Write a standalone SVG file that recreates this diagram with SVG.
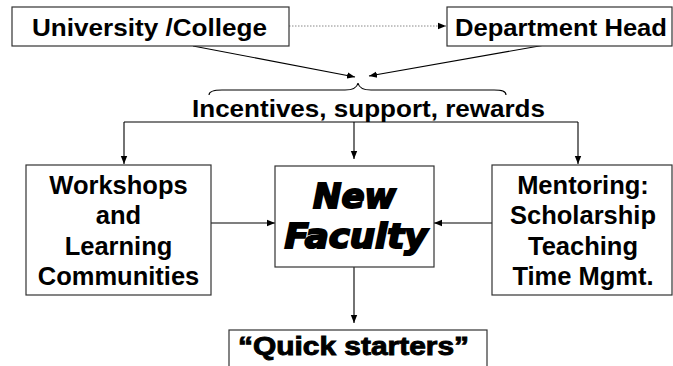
<svg xmlns="http://www.w3.org/2000/svg" width="673" height="366" viewBox="0 0 673 366">
<style>
.box{fill:#fff;stroke:#333;stroke-width:1.2}
.t{font-family:"Liberation Sans",Arial,sans-serif;font-weight:bold;fill:#000}
.c{text-anchor:middle}
.ln{fill:none;stroke:#000;stroke-width:1.1}
.heavy{stroke:#000;stroke-width:0.9}
</style>
<defs>
<marker id="ah" viewBox="0 0 8 8" refX="8" refY="4" markerWidth="8" markerHeight="8" markerUnits="userSpaceOnUse" orient="auto">
<path d="M0,0.8 L8,4 L0,7.2 Z" fill="#000"/>
</marker>
</defs>
<rect width="673" height="366" fill="#fff"/>
<g id="connectors">
<line x1="289" y1="26" x2="446" y2="26" stroke="#888" stroke-width="1" stroke-dasharray="1.5 1.5" marker-end="url(#ah)"/>
<line class="ln" x1="193" y1="46" x2="355" y2="77" marker-end="url(#ah)"/>
<line class="ln" x1="545" y1="45" x2="369" y2="76" marker-end="url(#ah)"/>
<path class="ln" d="M209,95 C209,91 214,90 222,90 L345,90 C353,90 357,88 358,83 C359,88 363,90 371,90 L494,90 C502,90 506,91 506,95" stroke-width="1"/>
<line class="ln" x1="124" y1="122" x2="578" y2="122"/>
<line class="ln" x1="124" y1="122" x2="124" y2="164" marker-end="url(#ah)"/>
<line class="ln" x1="354" y1="122" x2="354" y2="159" marker-end="url(#ah)"/>
<line class="ln" x1="578" y1="122" x2="578" y2="164" marker-end="url(#ah)"/>
<line class="ln" x1="211" y1="223" x2="275" y2="223" marker-end="url(#ah)"/>
<line class="ln" x1="492" y1="223" x2="434" y2="223" marker-end="url(#ah)"/>
<line class="ln" x1="354" y1="267" x2="354" y2="323" marker-end="url(#ah)"/>
</g>
<g id="university">
<rect class="box" x="12" y="7" width="277" height="39"/>
<text class="t" x="32" y="36" font-size="24" textLength="235" lengthAdjust="spacingAndGlyphs">University /College</text>
</g>
<g id="department">
<rect class="box" x="447" y="7" width="225" height="39"/>
<text class="t" x="455" y="36" font-size="24" textLength="212" lengthAdjust="spacingAndGlyphs">Department Head</text>
</g>
<g id="incentives">
<text class="t" x="192" y="117" font-size="24" textLength="353" lengthAdjust="spacingAndGlyphs">Incentives, support, rewards</text>
</g>
<g id="workshops">
<rect class="box" x="26" y="165" width="185" height="130"/>
<text class="t c" x="118.5" y="194" font-size="25.5">Workshops</text>
<text class="t c" x="118.5" y="224" font-size="25.5">and</text>
<text class="t c" x="118.5" y="255" font-size="25.5">Learning</text>
<text class="t c" x="118.5" y="285" font-size="25.5">Communities</text>
</g>
<g id="newfaculty">
<rect class="box" x="275" y="166" width="159" height="101"/>
<text class="c" x="354.5" y="208" font-size="34" font-family="'DejaVu Sans',sans-serif" font-weight="bold" font-style="italic" stroke="#000" stroke-width="2">New</text>
<text class="c" x="356" y="248" font-size="34" font-family="'DejaVu Sans',sans-serif" font-weight="bold" font-style="italic" stroke="#000" stroke-width="2" textLength="143" lengthAdjust="spacingAndGlyphs">Faculty</text>
</g>
<g id="mentoring">
<rect class="box" x="492" y="165" width="180" height="130"/>
<text class="t c" x="583" y="194" font-size="25.5">Mentoring:</text>
<text class="t c" x="583" y="224" font-size="25.5">Scholarship</text>
<text class="t c" x="583" y="255" font-size="25.5">Teaching</text>
<text class="t c" x="583" y="285" font-size="25.5">Time Mgmt.</text>
</g>
<g id="quickstarters">
<rect class="box" x="229" y="330" width="258" height="45"/>
<text class="t heavy" x="238" y="355" font-size="25" textLength="231" lengthAdjust="spacingAndGlyphs">“Quick starters”</text>
</g>
</svg>
